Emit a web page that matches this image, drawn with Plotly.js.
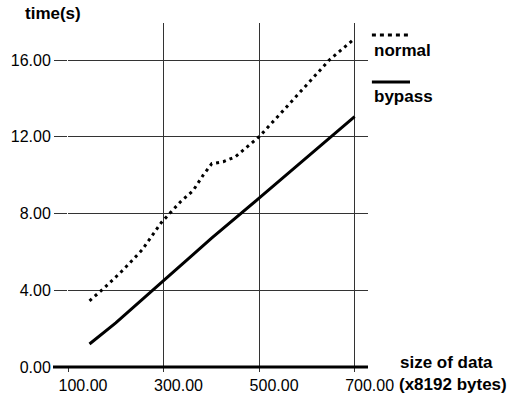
<!DOCTYPE html>
<html>
<head>
<meta charset="utf-8">
<script src="https://cdn.plot.ly/plotly-3.0.1.min.js"></script>
<style>html,body{margin:0;padding:0;background:#fff;}#chart{width:523px;height:395px;}</style>
</head>
<body>
<div id="chart"></div>
<script>
// Data
const normalX = [145, 175, 215, 255, 296, 335, 362, 383, 401, 425, 450, 471, 500, 550, 600, 647, 697];
const normalY = [3.45, 4.1, 5.05, 6.1, 7.55, 8.6, 9.2, 10.0, 10.6, 10.7, 10.95, 11.4, 12.0, 13.35, 14.7, 16.0, 17.05];
const bypassX = [145, 200, 300, 400, 500, 600, 700];
const bypassY = [1.2, 2.3, 4.5, 6.7, 8.8, 10.95, 13.05];
const xTicks = [100, 300, 500, 700];
const xTickLabels = ["100.00", "300.00", "500.00", "700.00"];
const yTicks = [0, 4, 8, 12, 16];
const yTickLabels = ["0.00", "4.00", "8.00", "12.00", "16.00"];
const seriesNames = ["normal", "bypass"];
const yTitle = "time(s)";
const xTitle1 = "size of data";
const xTitle2 = "(x8192 bytes)";

const FONT = "Liberation Sans, Arial, Helvetica, sans-serif";
const boldFont = {family: FONT, size: 17, color: "#000", weight: "bold"};

const traces = [
  {x: normalX, y: normalY, name: seriesNames[0], mode: "lines",
   line: {color: "#000", width: 3, dash: "3px,4px"}, showlegend: false},
  {x: bypassX, y: bypassY, name: seriesNames[1], mode: "lines",
   line: {color: "#000", width: 3}, showlegend: false}
];

const layout = {
  width: 523, height: 395,
  margin: {l: 68, r: 155, t: 23, b: 28},
  paper_bgcolor: "#fff", plot_bgcolor: "#fff",
  font: {family: FONT, size: 16, color: "#000"},
  xaxis: {
    range: [100, 728], tickvals: xTicks, ticktext: xTickLabels,
    showgrid: true, gridcolor: "#333", gridwidth: 1,
    ticks: "outside", ticklen: 4, tickcolor: "#333",
    ticklabelshift: 15, zeroline: false, showline: false,
    tickfont: {family: FONT, size: 16, color: "#000"}
  },
  yaxis: {
    range: [0, 17.93], tickvals: yTicks, ticktext: yTickLabels,
    showgrid: true, gridcolor: "#333", gridwidth: 1,
    ticks: "outside", ticklen: 13, tickcolor: "#333",
    zeroline: false, showline: false,
    tickfont: {family: FONT, size: 16, color: "#000"}
  },
  shapes: [
    // thick x axis baseline
    {type: "line", xref: "paper", yref: "paper", x0: -0.05, x1: 1, y0: 0, y1: 0,
     line: {color: "#000", width: 3}},
    // legend samples
    {type: "line", xref: "paper", yref: "paper", x0: 1.013, x1: 1.133, y0: 0.965, y1: 0.965,
     line: {color: "#000", width: 3, dash: "4px,4px"}},
    {type: "line", xref: "paper", yref: "paper", x0: 1.013, x1: 1.14, y0: 0.8285, y1: 0.8285,
     line: {color: "#000", width: 3}}
  ],
  annotations: [
    {text: yTitle, xref: "paper", yref: "paper", x: -0.05, y: 1.029,
     xanchor: "center", yanchor: "middle", showarrow: false, font: boldFont},
    {text: xTitle1, xref: "paper", yref: "paper", x: 1.26, y: 0.012,
     xanchor: "center", yanchor: "middle", showarrow: false, font: boldFont},
    {text: xTitle2, xref: "paper", yref: "paper", x: 1.283, y: -0.052,
     xanchor: "center", yanchor: "middle", showarrow: false, font: boldFont},
    {text: seriesNames[0], xref: "paper", yref: "paper", x: 1.013, y: 0.9215,
     xanchor: "left", yanchor: "middle", showarrow: false, font: boldFont},
    {text: seriesNames[1], xref: "paper", yref: "paper", x: 1.013, y: 0.785,
     xanchor: "left", yanchor: "middle", showarrow: false, font: boldFont}
  ]
};

Plotly.newPlot("chart", traces, layout, {staticPlot: true, displayModeBar: false});
</script>
</body>
</html>
